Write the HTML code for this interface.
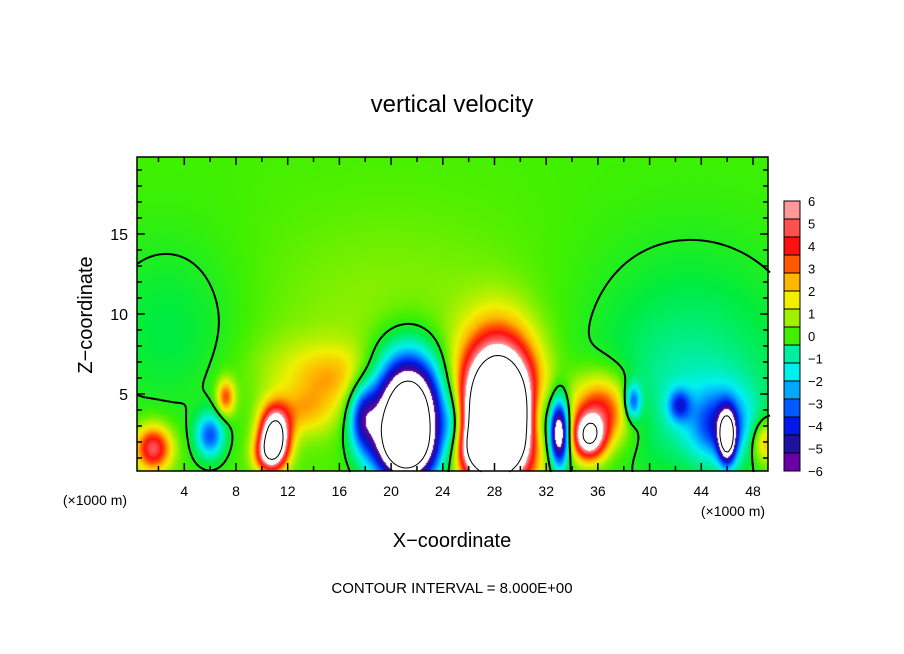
<!DOCTYPE html>
<html><head><meta charset="utf-8">
<style>
body{margin:0;background:#fff;width:904px;height:654px;overflow:hidden;font-family:"Liberation Sans",sans-serif;}
#wrap{position:relative;width:904px;height:654px;}
canvas{position:absolute;left:137px;top:157px;}
svg{position:absolute;left:0;top:0;}
</style></head>
<body>
<div id="wrap">
<canvas id="cv" width="631" height="314"></canvas>
<svg id="sv" width="904" height="654"></svg>
</div>
<script>
// Field data: gaussian features (x in km, z in km, amplitude m/s, widths)
const blobX   = [28.3, 27.5, 21.3, 21.0, 11.0, 10.5, 33.0, 35.3, 36.2, 46.0, 45.5, 1.6, 6.0, 17.8, 14.5, 7.2, 49.0, 38.7, 42.3, 20.0, 43.0, 3.0, 24.8, 31.5, 13.0, 16.5, 13.0, 36.5, 44.0];
const blobZ   = [3.8, 1.5, 3.6, 1.5, 2.4, 1.2, 2.6, 2.3, 4.2, 2.3, 3.0, 1.6, 2.4, 3.5, 5.0, 4.8, 2.0, 4.5, 4.3, 9.0, 7.0, 9.0, 3.0, 3.5, 6.5, 6.3, 3.8, 3.5, 4.0];
const blobAmp = [15, 5, -13, -4, 9, 4, -9, 7, 3.0, -8, -3.5, 5, -4, -4, 1.0, 3.5, 3, -4, -3, 0.7, -1.3, -0.9, -2.5, -2.5, 0.8, 1.0, 1.4, 1.5, -0.8];
const blobSx  = [2.0, 1.5, 1.9, 1.5, 0.8, 0.8, 0.55, 0.9, 1.6, 0.45, 1.6, 1.0, 0.8, 0.8, 2.0, 0.5, 0.8, 0.45, 0.6, 8, 6, 4, 0.6, 0.6, 3, 2.0, 1.5, 1.8, 4.0];
const blobSz  = [3.0, 1.0, 2.6, 1.2, 1.2, 0.8, 1.5, 1.0, 1.5, 1.1, 1.5, 1.0, 1.0, 1.5, 1.5, 0.8, 1.0, 0.8, 0.7, 5, 5, 4, 1.5, 1.5, 1.5, 1.2, 1.0, 1.5, 2.5];
const baseValue = 0.4;
const cbColors = ["#6a00a8","#2010a0","#0018e8","#0058ff","#00a8ff","#00f0f0","#00eea0","#00ec40","#40f000","#a0f000","#f0f000","#ffb800","#ff5a00","#ff1010","#ff5050","#ff9898"];
const cbTicks = [6,5,4,3,2,1,0,-1,-2,-3,-4,-5,-6];
const xTicks = [4,8,12,16,20,24,28,32,36,40,44,48];
const zTicks = [5,10,15];
const contourLevels = [-8,0,8];

const X=x=>132.6+12.925*x, Z=z=>474-16*z;
const PX=p=>(p-132.6)/12.925, PZ=p=>(474-p)/16;
function field(x,z){let v=baseValue;for(let i=0;i<blobX.length;i++){const dx=(x-blobX[i])/blobSx[i],dz=(z-blobZ[i])/blobSz[i];v+=blobAmp[i]*Math.exp(-0.5*(dx*dx+dz*dz));}return v;}
function hex(c){return [parseInt(c.substr(1,2),16),parseInt(c.substr(3,2),16),parseInt(c.substr(5,2),16)];}
const rgb=cbColors.map(hex);
function colorOf(v){if(v>6||v<-6)return [255,255,255];let t=(v+6)/0.8;t=Math.max(0,Math.min(15,t));const k=Math.min(14,Math.floor(t)),f=t-k;const a=rgb[k],b=rgb[k+1];return [a[0]+(b[0]-a[0])*f,a[1]+(b[1]-a[1])*f,a[2]+(b[2]-a[2])*f];}
const cv=document.getElementById('cv'),ctx=cv.getContext('2d'),img=ctx.createImageData(631,314);
for(let py=0;py<314;py++)for(let px=0;px<631;px++){const v=field(PX(px+137.5),PZ(py+157.5));const c=colorOf(v);const o=(py*631+px)*4;img.data[o]=c[0];img.data[o+1]=c[1];img.data[o+2]=c[2];img.data[o+3]=255;}
ctx.putImageData(img,0,0);

const NS="http://www.w3.org/2000/svg",sv=document.getElementById('sv');
function mk(t,a,p){const e=document.createElementNS(NS,t);for(const k in a)e.setAttribute(k,a[k]);(p||sv).appendChild(e);return e;}
const st=3,x0=137,y0=157,nx=Math.ceil(631/st),ny=Math.ceil(314/st),g=[];
for(let j=0;j<=ny;j++){g[j]=[];for(let i=0;i<=nx;i++)g[j][i]=field(PX(x0+i*st),PZ(y0+j*st));}
contourLevels.forEach(L=>{let d="";
 for(let j=0;j<ny;j++)for(let i=0;i<nx;i++){
  const a=g[j][i],b=g[j][i+1],c=g[j+1][i+1],e=g[j+1][i];const pts=[];
  const edge=(v1,v2,xa,ya,xb,yb)=>{if((v1>L)!==(v2>L)){const t=(L-v1)/(v2-v1);pts.push([xa+(xb-xa)*t,ya+(yb-ya)*t]);}};
  const X0=x0+i*st,Y0=y0+j*st;
  edge(a,b,X0,Y0,X0+st,Y0);edge(b,c,X0+st,Y0,X0+st,Y0+st);edge(e,c,X0,Y0+st,X0+st,Y0+st);edge(a,e,X0,Y0,X0,Y0+st);
  for(let k=0;k+1<pts.length;k+=2)d+="M"+pts[k][0].toFixed(1)+" "+pts[k][1].toFixed(1)+"L"+pts[k+1][0].toFixed(1)+" "+pts[k+1][1].toFixed(1);
 }
 const p=mk('path',{d:d,fill:'none',stroke:'#000','stroke-width':L===0?2:1});
 if(L<0)p.setAttribute('stroke-dasharray','5 3');
 
 
});
const fr=mk('rect',{x:137,y:157,width:631,height:314,fill:'none',stroke:'#000','stroke-width':1.5});

let td="";
for(let x=2;x<=48;x+=2){const len=x%4===0?8:5;const p=X(x);td+=`M${p} 471v-${len}M${p} 157v${len}`;}
for(let z=1;z<=19;z++){const len=z%5===0?8:5;const p=Z(z);td+=`M137 ${p}h${len}M768 ${p}h-${len}`;}
const tk=mk('path',{d:td,stroke:'#000','stroke-width':1.5,fill:'none'});

function txt(s,x,y,size,anchor,name,extra){const t=mk('text',Object.assign({x:x,y:y,'font-size':size,'text-anchor':anchor||'middle','font-family':'Liberation Sans, sans-serif',fill:'#000'},extra||{}));t.textContent=s;return t;}
xTicks.forEach(x=>txt(String(x),X(x),496,14,'middle','x-tick-label'));
zTicks.forEach(z=>txt(String(z),128,Z(z)+6,16,'end','z-tick-label'));
txt("vertical velocity",452,112,24,'middle','chart-title');
txt("X\u2212coordinate",452,547,20,'middle','x-axis-title');
txt("Z\u2212coordinate",0,0,20,'middle','z-axis-title',{transform:'translate(92,315) rotate(-90)'});
txt("(\u00d71000 m)",95,505,14,'middle','x-unit-left');
txt("(\u00d71000 m)",733,516,14,'middle','x-unit-right');
txt("CONTOUR INTERVAL = 8.000E+00",452,593,15,'middle','contour-interval-note');
for(let k=0;k<15;k++){const y1=471-(k+1)*18;const r=mk('rect',{x:784,y:y1,width:16,height:18,fill:cbColors[k+(k>=7?1:0)],stroke:'#000','stroke-width':1});
 }
cbTicks.forEach(v=>txt((v<0?"\u2212":"")+Math.abs(v),808,471-(v+6)*22.5+5,13,'start','colorbar-label'));
</script>
</body></html>
